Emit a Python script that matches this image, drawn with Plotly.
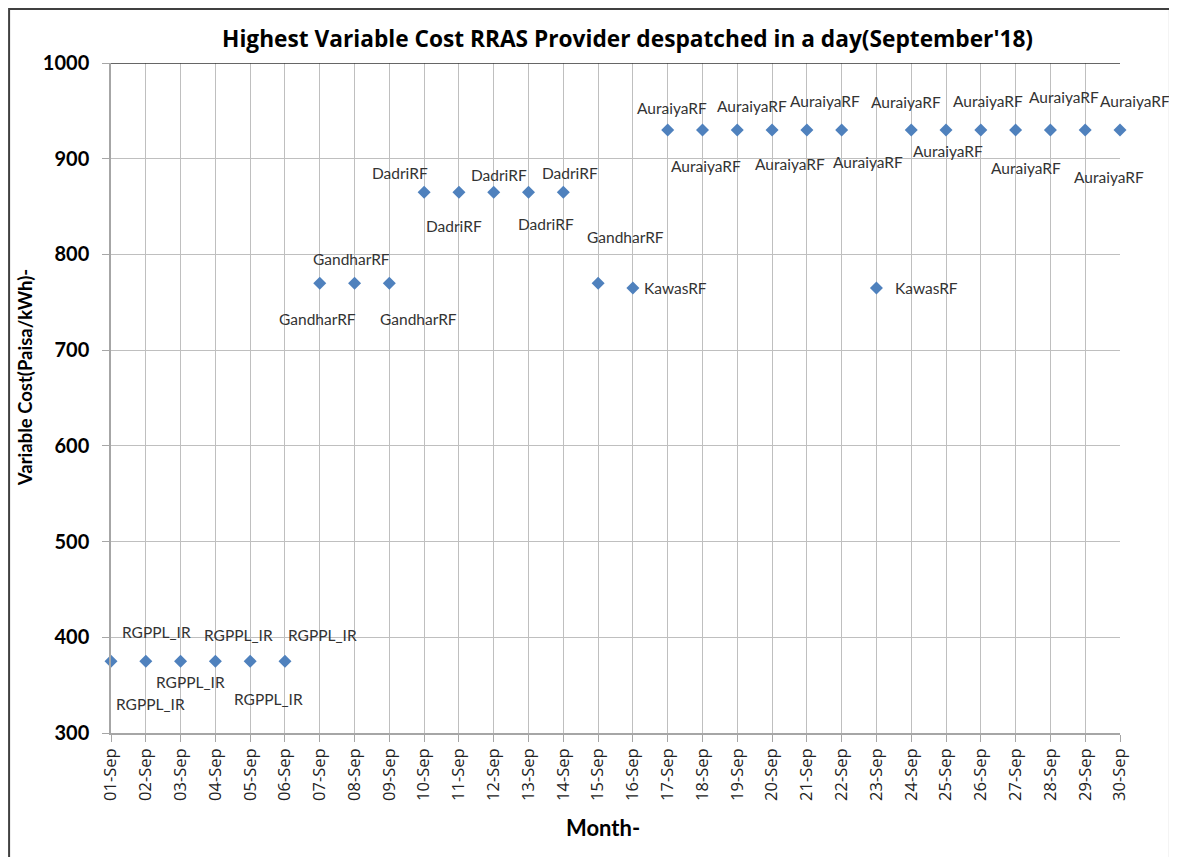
import plotly.graph_objects as go

days = ["%02d-Sep" % d for d in range(1, 31)]
providers = (["RGPPL_IR"] * 6 + ["GandharRF"] * 3 + ["DadriRF"] * 5
             + ["GandharRF", "KawasRF"] + ["AuraiyaRF"] * 6 + ["KawasRF"]
             + ["AuraiyaRF"] * 7)
cost = ([375] * 6 + [770] * 3 + [865] * 5 + [770, 765] + [930] * 6 + [765]
        + [930] * 7)

# label offsets in pixels (dx right, dy down) as placed in the original
label_dx = [39, 11, 10, 23, 18, 38, -2, -3, 29, -24, -5, 5, 17, 7, 27, 43,
            4, 4, 15, 18, 18, 26, 50, -5, 2, 7, 10, 14, 24, 15]
label_dy = [43, -29, 21, -26, 38, -26, 36, -24, 36, -19, 34, -17, 32, -19, -46, 0,
            -22, 36, -24, 34, -29, 32, 0, -28, 21, -29, 38, -33, 47, -29]

fig = go.Figure()
fig.add_trace(go.Scatter(
    x=days, y=cost, mode="markers",
    marker=dict(symbol="diamond", size=10, color="#4F81BD"),
    cliponaxis=False, showlegend=False,
))

for d, v, p, dx, dy in zip(days, cost, providers, label_dx, label_dy):
    fig.add_annotation(x=d, y=v, text=p, showarrow=False,
                       xshift=dx, yshift=-dy,
                       font=dict(family="Lato", size=15.5, color="#333333"))

# axis titles placed as annotations (the page body adds an 8px offset)
fig.add_annotation(xref="paper", yref="paper", x=-0.085, y=0.53,
                   xanchor="center", yanchor="middle",
                   text="<b>Variable Cost(Paisa/kWh)-</b>", textangle=-90,
                   showarrow=False, font=dict(family="Lato", size=18.5))
fig.add_annotation(xref="paper", yref="paper", x=0.488, y=-0.164,
                   text="<b>Month-</b>", showarrow=False,
                   font=dict(family="Lato", size=22))

# outer frame and dark top edge
fig.add_shape(type="rect", xref="paper", yref="paper",
              x0=-0.101, x1=1.0495, y0=-0.2, y1=1.0806,
              line=dict(color="#404040", width=2))
fig.add_shape(type="line", xref="paper", yref="y", x0=0, x1=1, y0=1000, y1=1000,
              line=dict(color="#333333", width=1.5))

fig.update_layout(
    width=1169, height=849,
    margin=dict(l=103, r=57, t=55, b=124),
    paper_bgcolor="white", plot_bgcolor="white",
    font=dict(family="Lato", color="#000000"),
    title=dict(text="<b>Highest Variable Cost RRAS Provider despatched in a day(September'18)</b>",
               x=0.53, xanchor="center", y=0.963, yanchor="middle",
               font=dict(size=22.7, family="Open Sans")),
)
fig.update_xaxes(
    type="category", range=[0, 29], tickangle=-90,
    showgrid=True, gridcolor="#BFBFBF", gridwidth=1,
    showline=True, linecolor="#A6A6A6", linewidth=1.5,
    ticks="outside", ticklen=7, tickcolor="#A6A6A6",
    tickfont=dict(size=16.5, family="Open Sans", color="#222222"),
)
fig.update_yaxes(
    range=[300, 1000], dtick=100,
    showgrid=True, gridcolor="#BFBFBF", gridwidth=1,
    showline=True, linecolor="#A6A6A6", linewidth=1.5,
    ticks="outside", ticklen=7, tickcolor="#A6A6A6", ticklabelstandoff=9,
    tickfont=dict(size=20, family="Lato", color="#000000"),
    tickprefix="<b>", ticksuffix="</b>",
)

fig.write_html("out.html")
